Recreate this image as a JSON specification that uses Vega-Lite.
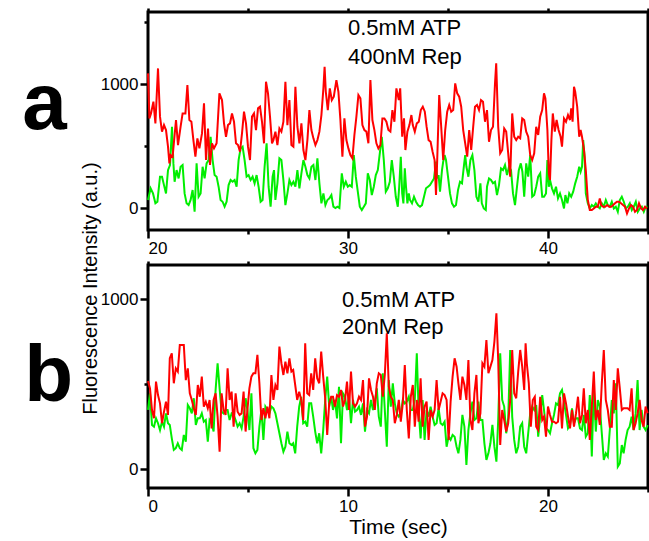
{
"$schema": "https://vega.github.io/schema/vega-lite/v6.json",
"background": "white",
"padding": {"left": 20, "top": 5, "right": 0, "bottom": 0},
"config": {
"font": "Liberation Sans",
"view": {"stroke": "black", "strokeWidth": 3},
"axis": {"grid": false, "domain": false, "tickColor": "black", "tickWidth": 2.5, "labelFont": "Liberation Sans", "labelFontSize": 17, "labelColor": "black", "labelPadding": 2, "titleFont": "Liberation Sans", "titleFontSize": 20, "titleFontWeight": "normal", "titleColor": "black"},
"text": {"font": "Liberation Sans"}
},
"datasets": {
"aR": [{"t":20.00,"v":1086},{"t":20.07,"v":723},{"t":20.15,"v":763},{"t":20.27,"v":858},{"t":20.37,"v":683},{"t":20.50,"v":1126},{"t":20.60,"v":737},{"t":20.70,"v":616},{"t":20.80,"v":669},{"t":20.90,"v":629},{"t":21.00,"v":495},{"t":21.07,"v":360},{"t":21.13,"v":427},{"t":21.23,"v":414},{"t":21.40,"v":710},{"t":21.50,"v":508},{"t":21.63,"v":656},{"t":21.73,"v":763},{"t":21.87,"v":763},{"t":21.97,"v":992},{"t":22.07,"v":710},{"t":22.17,"v":696},{"t":22.27,"v":548},{"t":22.37,"v":414},{"t":22.47,"v":562},{"t":22.57,"v":481},{"t":22.70,"v":602},{"t":22.80,"v":844},{"t":22.90,"v":387},{"t":23.00,"v":642},{"t":23.10,"v":347},{"t":23.20,"v":522},{"t":23.30,"v":481},{"t":23.43,"v":522},{"t":23.57,"v":925},{"t":23.70,"v":871},{"t":23.80,"v":683},{"t":23.90,"v":575},{"t":24.00,"v":669},{"t":24.10,"v":683},{"t":24.20,"v":763},{"t":24.30,"v":696},{"t":24.40,"v":522},{"t":24.50,"v":508},{"t":24.60,"v":454},{"t":24.70,"v":602},{"t":24.80,"v":777},{"t":24.90,"v":683},{"t":25.00,"v":495},{"t":25.10,"v":387},{"t":25.20,"v":737},{"t":25.30,"v":763},{"t":25.40,"v":629},{"t":25.50,"v":804},{"t":25.60,"v":817},{"t":25.70,"v":696},{"t":25.80,"v":522},{"t":25.90,"v":1019},{"t":26.00,"v":925},{"t":26.10,"v":737},{"t":26.20,"v":522},
{"t":26.27,"v":548},{"t":26.37,"v":616},{"t":26.47,"v":508},{"t":26.57,"v":642},{"t":26.67,"v":616},{"t":26.77,"v":696},{"t":26.87,"v":1019},{"t":26.97,"v":669},{"t":27.07,"v":871},{"t":27.17,"v":508},{"t":27.27,"v":495},{"t":27.37,"v":978},{"t":27.47,"v":656},{"t":27.57,"v":522},{"t":27.67,"v":683},{"t":27.77,"v":468},{"t":27.87,"v":387},{"t":27.97,"v":548},{"t":28.07,"v":790},{"t":28.17,"v":629},{"t":28.27,"v":562},{"t":28.37,"v":508},{"t":28.47,"v":548},{"t":28.57,"v":616},{"t":28.67,"v":750},{"t":28.77,"v":965},{"t":28.83,"v":1140},{"t":28.89,"v":938},{"t":28.99,"v":790},{"t":29.09,"v":965},{"t":29.19,"v":871},{"t":29.29,"v":898},{"t":29.42,"v":1032},{"t":29.52,"v":938},{"t":29.62,"v":710},{"t":29.72,"v":414},{"t":29.82,"v":723},{"t":29.92,"v":548},{"t":30.02,"v":481},{"t":30.12,"v":427},{"t":30.22,"v":401},{"t":30.32,"v":589},{"t":30.42,"v":737},{"t":30.52,"v":911},{"t":30.62,"v":884},{"t":30.72,"v":669},{"t":30.82,"v":629},{"t":30.92,"v":616},{"t":31.02,"v":522},{"t":31.12,"v":1032},{"t":31.22,"v":710},{"t":31.32,"v":629},{"t":31.42,"v":522},{"t":31.52,"v":481},{"t":31.62,"v":508},{"t":31.72,"v":723},{"t":31.82,"v":723},{"t":31.92,"v":696},{"t":32.02,"v":629},{"t":32.12,"v":616},{"t":32.22,"v":790},{"t":32.32,"v":696},{"t":32.42,"v":965},
{"t":32.54,"v":871},{"t":32.61,"v":965},{"t":32.71,"v":575},{"t":32.80,"v":723},{"t":32.87,"v":468},{"t":32.97,"v":616},{"t":33.07,"v":669},{"t":33.17,"v":750},{"t":33.24,"v":669},{"t":33.34,"v":616},{"t":33.44,"v":683},{"t":33.54,"v":696},{"t":33.64,"v":790},{"t":33.74,"v":817},{"t":33.84,"v":777},{"t":33.93,"v":656},{"t":34.03,"v":548},{"t":34.13,"v":535},{"t":34.23,"v":454},{"t":34.33,"v":387},{"t":34.40,"v":105},{"t":34.46,"v":387},{"t":34.56,"v":911},{"t":34.66,"v":656},{"t":34.76,"v":387},{"t":34.86,"v":629},{"t":34.96,"v":777},{"t":35.06,"v":831},{"t":35.16,"v":777},{"t":35.26,"v":790},{"t":35.36,"v":1005},{"t":35.46,"v":925},{"t":35.56,"v":898},{"t":35.66,"v":817},{"t":35.76,"v":629},{"t":35.86,"v":522},{"t":35.96,"v":414},{"t":36.06,"v":629},{"t":36.16,"v":468},{"t":36.26,"v":656},{"t":36.35,"v":817},{"t":36.45,"v":831},{"t":36.55,"v":790},{"t":36.65,"v":871},{"t":36.75,"v":858},{"t":36.85,"v":696},{"t":36.95,"v":790},{"t":37.05,"v":535},{"t":37.15,"v":629},{"t":37.25,"v":656},{"t":37.35,"v":1005},{"t":37.41,"v":1167},{"t":37.51,"v":656},{"t":37.61,"v":441},{"t":37.71,"v":468},{"t":37.81,"v":642},{"t":37.91,"v":616},{"t":38.01,"v":441},{"t":38.11,"v":253},{"t":38.21,"v":763},{"t":38.31,"v":575},{"t":38.41,"v":548},{"t":38.51,"v":575},{"t":38.61,"v":562},{"t":38.71,"v":723},
{"t":38.81,"v":710},{"t":38.91,"v":616},{"t":39.01,"v":575},{"t":39.11,"v":427},{"t":39.21,"v":387},{"t":39.31,"v":441},{"t":39.41,"v":656},{"t":39.51,"v":589},{"t":39.61,"v":737},{"t":39.71,"v":790},{"t":39.80,"v":925},{"t":39.87,"v":884},{"t":39.97,"v":629},{"t":40.04,"v":280},{"t":40.10,"v":226},{"t":40.17,"v":548},{"t":40.24,"v":763},{"t":40.34,"v":616},{"t":40.43,"v":710},{"t":40.53,"v":629},{"t":40.63,"v":575},{"t":40.70,"v":495},{"t":40.80,"v":723},{"t":40.90,"v":696},{"t":41.00,"v":750},{"t":41.10,"v":710},{"t":41.16,"v":804},{"t":41.23,"v":696},{"t":41.30,"v":978},{"t":41.36,"v":938},{"t":41.46,"v":817},{"t":41.56,"v":575},{"t":41.63,"v":629},{"t":41.70,"v":575},{"t":41.80,"v":468},{"t":41.89,"v":306},{"t":41.99,"v":65},{"t":42.09,"v":-16},{"t":42.19,"v":-16},{"t":42.29,"v":-3},{"t":42.39,"v":11},{"t":42.49,"v":11},{"t":42.59,"v":78},{"t":42.66,"v":24},{"t":42.76,"v":11},{"t":42.86,"v":11},{"t":42.96,"v":24},{"t":43.06,"v":11},{"t":43.16,"v":11},{"t":43.26,"v":24},{"t":43.35,"v":38},{"t":43.45,"v":51},{"t":43.55,"v":51},{"t":43.65,"v":38},{"t":43.75,"v":24},{"t":43.85,"v":11},{"t":43.95,"v":-43},{"t":44.05,"v":-3},{"t":44.15,"v":24},{"t":44.25,"v":11},{"t":44.35,"v":-30},{"t":44.45,"v":-16},{"t":44.55,"v":38},{"t":44.65,"v":-3},{"t":44.75,"v":-16},{"t":44.85,"v":11},{"t":44.95,"v":-3}],
"aG": [{"t":20.00,"v":65},{"t":20.13,"v":159},{"t":20.25,"v":118},{"t":20.37,"v":38},{"t":20.47,"v":51},{"t":20.60,"v":253},{"t":20.70,"v":253},{"t":20.80,"v":185},{"t":20.90,"v":118},{"t":21.00,"v":306},{"t":21.10,"v":347},{"t":21.20,"v":656},{"t":21.27,"v":360},{"t":21.33,"v":212},{"t":21.43,"v":306},{"t":21.53,"v":239},{"t":21.63,"v":333},{"t":21.73,"v":347},{"t":21.83,"v":118},{"t":21.93,"v":38},{"t":22.03,"v":24},{"t":22.13,"v":65},{"t":22.23,"v":145},{"t":22.33,"v":-30},{"t":22.43,"v":360},{"t":22.53,"v":91},{"t":22.63,"v":118},{"t":22.73,"v":333},{"t":22.83,"v":239},{"t":22.93,"v":360},{"t":23.03,"v":387},{"t":23.13,"v":575},{"t":23.23,"v":387},{"t":23.33,"v":266},{"t":23.43,"v":253},{"t":23.53,"v":172},{"t":23.63,"v":65},{"t":23.73,"v":51},{"t":23.83,"v":11},{"t":23.93,"v":51},{"t":24.03,"v":185},{"t":24.13,"v":226},{"t":24.23,"v":212},{"t":24.33,"v":226},{"t":24.43,"v":172},{"t":24.53,"v":387},{"t":24.63,"v":481},{"t":24.73,"v":495},{"t":24.83,"v":387},{"t":24.93,"v":253},{"t":25.03,"v":266},{"t":25.13,"v":226},{"t":25.23,"v":253},{"t":25.33,"v":199},{"t":25.43,"v":266},{"t":25.53,"v":172},{"t":25.63,"v":51},{"t":25.73,"v":65},{"t":25.83,"v":333},{"t":25.93,"v":522},{"t":26.03,"v":172},{"t":26.13,"v":11},{"t":26.23,"v":253},
{"t":26.30,"v":306},{"t":26.37,"v":65},{"t":26.47,"v":199},{"t":26.57,"v":401},{"t":26.67,"v":387},{"t":26.77,"v":226},{"t":26.87,"v":24},{"t":26.97,"v":118},{"t":27.07,"v":226},{"t":27.17,"v":185},{"t":27.27,"v":212},{"t":27.37,"v":172},{"t":27.47,"v":306},{"t":27.57,"v":159},{"t":27.67,"v":280},{"t":27.77,"v":387},{"t":27.87,"v":333},{"t":27.97,"v":266},{"t":28.07,"v":239},{"t":28.17,"v":333},{"t":28.27,"v":347},{"t":28.37,"v":226},{"t":28.47,"v":401},{"t":28.57,"v":199},{"t":28.67,"v":38},{"t":28.77,"v":118},{"t":28.87,"v":24},{"t":28.97,"v":65},{"t":29.07,"v":78},{"t":29.17,"v":105},{"t":29.27,"v":11},{"t":29.37,"v":0},{"t":29.47,"v":11},{"t":29.57,"v":0},{"t":29.69,"v":280},{"t":29.79,"v":172},{"t":29.89,"v":212},{"t":29.99,"v":172},{"t":30.09,"v":185},{"t":30.19,"v":172},{"t":30.29,"v":427},{"t":30.39,"v":253},{"t":30.49,"v":132},{"t":30.59,"v":11},{"t":30.69,"v":-16},{"t":30.79,"v":11},{"t":30.89,"v":38},{"t":30.99,"v":280},{"t":31.09,"v":226},{"t":31.19,"v":105},{"t":31.29,"v":172},{"t":31.39,"v":266},{"t":31.49,"v":306},{"t":31.59,"v":441},{"t":31.69,"v":575},{"t":31.79,"v":387},{"t":31.89,"v":132},{"t":31.99,"v":159},{"t":32.09,"v":212},{"t":32.19,"v":387},{"t":32.29,"v":253},{"t":32.39,"v":91},{"t":32.49,"v":11},
{"t":32.56,"v":172},{"t":32.64,"v":414},{"t":32.71,"v":118},{"t":32.77,"v":38},{"t":32.84,"v":320},{"t":32.90,"v":172},{"t":32.97,"v":38},{"t":33.04,"v":118},{"t":33.10,"v":65},{"t":33.20,"v":38},{"t":33.30,"v":91},{"t":33.40,"v":51},{"t":33.50,"v":24},{"t":33.60,"v":11},{"t":33.70,"v":24},{"t":33.80,"v":91},{"t":33.90,"v":159},{"t":34.00,"v":172},{"t":34.10,"v":185},{"t":34.20,"v":212},{"t":34.30,"v":239},{"t":34.40,"v":374},{"t":34.46,"v":239},{"t":34.53,"v":266},{"t":34.60,"v":132},{"t":34.70,"v":306},{"t":34.76,"v":374},{"t":34.83,"v":427},{"t":34.90,"v":387},{"t":35.00,"v":253},{"t":35.10,"v":118},{"t":35.20,"v":38},{"t":35.30,"v":11},{"t":35.40,"v":24},{"t":35.50,"v":145},{"t":35.60,"v":212},{"t":35.70,"v":199},{"t":35.80,"v":347},{"t":35.86,"v":427},{"t":35.92,"v":333},{"t":36.02,"v":253},{"t":36.12,"v":387},{"t":36.22,"v":427},{"t":36.32,"v":306},{"t":36.42,"v":91},{"t":36.52,"v":51},{"t":36.62,"v":199},{"t":36.69,"v":38},{"t":36.79,"v":-3},{"t":36.89,"v":-16},{"t":36.95,"v":172},{"t":37.05,"v":239},{"t":37.15,"v":226},{"t":37.25,"v":199},{"t":37.35,"v":212},{"t":37.45,"v":105},{"t":37.55,"v":185},{"t":37.65,"v":320},{"t":37.75,"v":306},{"t":37.85,"v":347},{"t":37.95,"v":266},{"t":38.05,"v":333},{"t":38.15,"v":306},{"t":38.25,"v":118},{"t":38.35,"v":24},{"t":38.45,"v":172},{"t":38.54,"v":306},{"t":38.64,"v":360},{"t":38.72,"v":293},
{"t":38.81,"v":91},{"t":38.91,"v":360},{"t":39.01,"v":253},{"t":39.11,"v":427},{"t":39.21,"v":91},{"t":39.31,"v":105},{"t":39.41,"v":172},{"t":39.51,"v":253},{"t":39.61,"v":280},{"t":39.71,"v":91},{"t":39.80,"v":91},{"t":39.90,"v":118},{"t":39.97,"v":387},{"t":40.04,"v":172},{"t":40.10,"v":226},{"t":40.20,"v":159},{"t":40.30,"v":118},{"t":40.40,"v":172},{"t":40.50,"v":78},{"t":40.60,"v":118},{"t":40.70,"v":65},{"t":40.80,"v":-3},{"t":40.87,"v":105},{"t":40.97,"v":38},{"t":41.06,"v":118},{"t":41.16,"v":91},{"t":41.26,"v":132},{"t":41.36,"v":199},{"t":41.46,"v":253},{"t":41.56,"v":333},{"t":41.63,"v":293},{"t":41.70,"v":333},{"t":41.76,"v":548},{"t":41.83,"v":414},{"t":41.89,"v":118},{"t":41.99,"v":38},{"t":42.09,"v":-3},{"t":42.19,"v":24},{"t":42.29,"v":11},{"t":42.39,"v":38},{"t":42.49,"v":11},{"t":42.59,"v":-3},{"t":42.69,"v":38},{"t":42.79,"v":11},{"t":42.89,"v":65},{"t":42.99,"v":24},{"t":43.09,"v":11},{"t":43.19,"v":51},{"t":43.29,"v":-3},{"t":43.39,"v":11},{"t":43.49,"v":-30},{"t":43.59,"v":65},{"t":43.69,"v":91},{"t":43.79,"v":51},{"t":43.89,"v":-3},{"t":43.99,"v":11},{"t":44.09,"v":38},{"t":44.19,"v":-16},{"t":44.29,"v":11},{"t":44.39,"v":51},{"t":44.49,"v":-30},{"t":44.59,"v":-3},{"t":44.69,"v":11},{"t":44.79,"v":-30},{"t":44.89,"v":11},{"t":44.97,"v":11}],
"bR": [{"t":0.00,"v":520},{"t":0.10,"v":476},{"t":0.20,"v":349},{"t":0.30,"v":300},{"t":0.40,"v":516},{"t":0.50,"v":437},{"t":0.60,"v":388},{"t":0.70,"v":271},{"t":0.80,"v":339},{"t":0.90,"v":398},{"t":1.00,"v":320},{"t":1.09,"v":653},{"t":1.19,"v":682},{"t":1.29,"v":506},{"t":1.39,"v":594},{"t":1.49,"v":575},{"t":1.59,"v":731},{"t":1.69,"v":731},{"t":1.79,"v":731},{"t":1.89,"v":525},{"t":1.99,"v":594},{"t":2.09,"v":447},{"t":2.19,"v":408},{"t":2.29,"v":359},{"t":2.39,"v":320},{"t":2.49,"v":496},{"t":2.59,"v":427},{"t":2.69,"v":545},{"t":2.79,"v":369},{"t":2.89,"v":398},{"t":2.99,"v":359},{"t":3.08,"v":408},{"t":3.18,"v":241},{"t":3.28,"v":408},{"t":3.38,"v":447},{"t":3.48,"v":310},{"t":3.58,"v":104},{"t":3.68,"v":447},{"t":3.78,"v":349},{"t":3.88,"v":320},{"t":3.98,"v":594},{"t":4.08,"v":408},{"t":4.18,"v":457},{"t":4.28,"v":251},{"t":4.38,"v":447},{"t":4.48,"v":339},{"t":4.58,"v":320},{"t":4.68,"v":329},{"t":4.78,"v":457},{"t":4.88,"v":222},{"t":4.97,"v":349},{"t":5.07,"v":476},{"t":5.17,"v":545},{"t":5.27,"v":565},{"t":5.37,"v":565},{"t":5.47,"v":673},{"t":5.57,"v":506},{"t":5.67,"v":290},{"t":5.77,"v":359},{"t":5.87,"v":300},{"t":5.97,"v":369},{"t":6.07,"v":300},{"t":6.17,"v":555},
{"t":6.27,"v":408},{"t":6.37,"v":496},{"t":6.47,"v":467},{"t":6.57,"v":722},{"t":6.67,"v":624},{"t":6.77,"v":555},{"t":6.87,"v":633},{"t":6.97,"v":565},{"t":7.07,"v":653},{"t":7.17,"v":575},{"t":7.26,"v":584},{"t":7.36,"v":496},{"t":7.46,"v":408},{"t":7.56,"v":457},{"t":7.66,"v":408},{"t":7.76,"v":290},{"t":7.86,"v":741},{"t":7.96,"v":447},{"t":8.06,"v":437},{"t":8.16,"v":565},{"t":8.26,"v":467},{"t":8.36,"v":653},{"t":8.46,"v":535},{"t":8.56,"v":506},{"t":8.66,"v":692},{"t":8.76,"v":545},{"t":8.86,"v":418},{"t":8.96,"v":202},{"t":9.06,"v":388},{"t":9.16,"v":427},{"t":9.25,"v":427},{"t":9.35,"v":369},{"t":9.45,"v":437},{"t":9.55,"v":427},{"t":9.65,"v":467},{"t":9.75,"v":369},{"t":9.85,"v":408},{"t":9.95,"v":516},{"t":10.05,"v":349},{"t":10.15,"v":575},{"t":10.25,"v":388},{"t":10.35,"v":369},{"t":10.45,"v":388},{"t":10.55,"v":427},{"t":10.65,"v":408},{"t":10.75,"v":525},{"t":10.85,"v":251},{"t":10.95,"v":310},{"t":11.05,"v":535},{"t":11.15,"v":467},{"t":11.25,"v":427},{"t":11.34,"v":349},{"t":11.44,"v":506},{"t":11.54,"v":565},{"t":11.64,"v":555},{"t":11.74,"v":427},{"t":11.84,"v":555},{"t":11.94,"v":800},{"t":12.04,"v":486},{"t":12.14,"v":427},{"t":12.24,"v":408},{"t":12.34,"v":271},{"t":12.44,"v":320},{"t":12.54,"v":408},
{"t":12.64,"v":280},{"t":12.74,"v":388},{"t":12.84,"v":614},{"t":12.94,"v":349},{"t":13.04,"v":182},{"t":13.14,"v":427},{"t":13.24,"v":496},{"t":13.34,"v":251},{"t":13.44,"v":408},{"t":13.53,"v":280},{"t":13.63,"v":535},{"t":13.73,"v":251},{"t":13.83,"v":369},{"t":13.93,"v":398},{"t":14.03,"v":173},{"t":14.13,"v":349},{"t":14.23,"v":310},{"t":14.33,"v":349},{"t":14.43,"v":525},{"t":14.53,"v":349},{"t":14.63,"v":398},{"t":14.73,"v":447},{"t":14.83,"v":437},{"t":14.93,"v":408},{"t":15.03,"v":173},{"t":15.13,"v":398},{"t":15.23,"v":545},{"t":15.33,"v":653},{"t":15.43,"v":604},{"t":15.52,"v":506},{"t":15.62,"v":408},{"t":15.72,"v":545},{"t":15.82,"v":496},{"t":15.92,"v":408},{"t":16.02,"v":643},{"t":16.12,"v":290},{"t":16.22,"v":231},{"t":16.32,"v":447},{"t":16.42,"v":555},{"t":16.52,"v":271},{"t":16.62,"v":329},{"t":16.72,"v":624},{"t":16.82,"v":604},{"t":16.92,"v":761},{"t":17.02,"v":565},{"t":17.12,"v":604},{"t":17.22,"v":643},{"t":17.32,"v":751},{"t":17.42,"v":918},{"t":17.51,"v":643},{"t":17.61,"v":143},{"t":17.71,"v":349},{"t":17.81,"v":290},{"t":17.91,"v":222},{"t":18.01,"v":271},{"t":18.11,"v":408},{"t":18.21,"v":702},{"t":18.31,"v":447},{"t":18.41,"v":418},{"t":18.51,"v":575},{"t":18.61,"v":702},{"t":18.71,"v":604},
{"t":18.81,"v":467},{"t":18.88,"v":741},{"t":18.94,"v":624},{"t":19.04,"v":506},{"t":19.14,"v":251},{"t":19.24,"v":408},{"t":19.34,"v":427},{"t":19.41,"v":251},{"t":19.51,"v":231},{"t":19.61,"v":427},{"t":19.71,"v":290},{"t":19.80,"v":310},{"t":19.90,"v":192},{"t":20.00,"v":369},{"t":20.10,"v":320},{"t":20.20,"v":280},{"t":20.30,"v":280},{"t":20.40,"v":271},{"t":20.50,"v":280},{"t":20.60,"v":427},{"t":20.70,"v":241},{"t":20.80,"v":447},{"t":20.90,"v":388},{"t":21.00,"v":310},{"t":21.10,"v":241},{"t":21.20,"v":349},{"t":21.30,"v":251},{"t":21.40,"v":329},{"t":21.50,"v":427},{"t":21.60,"v":271},{"t":21.70,"v":320},{"t":21.79,"v":476},{"t":21.89,"v":271},{"t":21.99,"v":349},{"t":22.09,"v":173},{"t":22.19,"v":369},{"t":22.29,"v":575},{"t":22.39,"v":290},{"t":22.49,"v":349},{"t":22.59,"v":261},{"t":22.69,"v":506},{"t":22.79,"v":702},{"t":22.89,"v":408},{"t":22.99,"v":349},{"t":23.09,"v":251},{"t":23.19,"v":251},{"t":23.29,"v":525},{"t":23.39,"v":349},{"t":23.49,"v":594},{"t":23.59,"v":476},{"t":23.69,"v":349},{"t":23.78,"v":359},{"t":23.88,"v":359},{"t":23.98,"v":359},{"t":24.08,"v":349},{"t":24.18,"v":476},{"t":24.28,"v":231},{"t":24.38,"v":271},{"t":24.48,"v":329},{"t":24.58,"v":408},{"t":24.68,"v":290},{"t":24.78,"v":251},{"t":24.88,"v":369},{"t":24.98,"v":330}],
"bG": [{"t":0.00,"v":350},{"t":0.10,"v":447},{"t":0.20,"v":261},{"t":0.30,"v":251},{"t":0.40,"v":300},{"t":0.50,"v":271},{"t":0.60,"v":231},{"t":0.70,"v":280},{"t":0.80,"v":251},{"t":0.90,"v":329},{"t":1.00,"v":271},{"t":1.09,"v":261},{"t":1.19,"v":182},{"t":1.29,"v":114},{"t":1.39,"v":124},{"t":1.49,"v":153},{"t":1.59,"v":124},{"t":1.69,"v":114},{"t":1.79,"v":202},{"t":1.89,"v":163},{"t":1.99,"v":378},{"t":2.09,"v":359},{"t":2.19,"v":329},{"t":2.29,"v":418},{"t":2.39,"v":261},{"t":2.49,"v":300},{"t":2.59,"v":300},{"t":2.69,"v":329},{"t":2.79,"v":280},{"t":2.89,"v":290},{"t":2.99,"v":163},{"t":3.08,"v":290},{"t":3.18,"v":271},{"t":3.28,"v":222},{"t":3.38,"v":467},{"t":3.48,"v":624},{"t":3.58,"v":476},{"t":3.68,"v":339},{"t":3.78,"v":329},{"t":3.88,"v":349},{"t":3.98,"v":349},{"t":4.08,"v":290},{"t":4.18,"v":329},{"t":4.28,"v":320},{"t":4.38,"v":290},{"t":4.48,"v":251},{"t":4.58,"v":271},{"t":4.68,"v":241},{"t":4.78,"v":310},{"t":4.88,"v":418},{"t":4.97,"v":349},{"t":5.07,"v":231},{"t":5.17,"v":447},{"t":5.27,"v":124},{"t":5.37,"v":94},{"t":5.47,"v":114},{"t":5.57,"v":251},{"t":5.67,"v":349},{"t":5.77,"v":173},{"t":5.87,"v":369},{"t":5.97,"v":349},{"t":6.07,"v":329},{"t":6.17,"v":369},
{"t":6.27,"v":359},{"t":6.37,"v":329},{"t":6.47,"v":271},{"t":6.57,"v":212},{"t":6.67,"v":153},{"t":6.77,"v":104},{"t":6.87,"v":133},{"t":6.97,"v":222},{"t":7.07,"v":153},{"t":7.17,"v":143},{"t":7.26,"v":153},{"t":7.36,"v":94},{"t":7.46,"v":251},{"t":7.56,"v":369},{"t":7.66,"v":427},{"t":7.76,"v":271},{"t":7.86,"v":280},{"t":7.96,"v":251},{"t":8.06,"v":388},{"t":8.16,"v":388},{"t":8.26,"v":310},{"t":8.36,"v":222},{"t":8.46,"v":153},{"t":8.56,"v":212},{"t":8.66,"v":94},{"t":8.76,"v":231},{"t":8.86,"v":408},{"t":8.96,"v":545},{"t":9.06,"v":369},{"t":9.16,"v":427},{"t":9.25,"v":349},{"t":9.35,"v":408},{"t":9.45,"v":300},{"t":9.55,"v":486},{"t":9.65,"v":153},{"t":9.75,"v":447},{"t":9.85,"v":427},{"t":9.95,"v":349},{"t":10.05,"v":427},{"t":10.15,"v":271},{"t":10.25,"v":408},{"t":10.35,"v":339},{"t":10.45,"v":349},{"t":10.55,"v":369},{"t":10.65,"v":320},{"t":10.75,"v":388},{"t":10.85,"v":222},{"t":10.95,"v":349},{"t":11.05,"v":329},{"t":11.15,"v":408},{"t":11.25,"v":349},{"t":11.34,"v":398},{"t":11.44,"v":476},{"t":11.54,"v":310},{"t":11.64,"v":251},{"t":11.74,"v":565},{"t":11.84,"v":349},{"t":11.94,"v":133},{"t":12.04,"v":525},{"t":12.14,"v":369},{"t":12.24,"v":506},{"t":12.34,"v":388},{"t":12.44,"v":329},{"t":12.54,"v":310},
{"t":12.64,"v":329},{"t":12.74,"v":408},{"t":12.84,"v":388},{"t":12.94,"v":398},{"t":13.04,"v":427},{"t":13.14,"v":349},{"t":13.24,"v":349},{"t":13.34,"v":408},{"t":13.44,"v":682},{"t":13.53,"v":349},{"t":13.63,"v":182},{"t":13.73,"v":408},{"t":13.83,"v":173},{"t":13.93,"v":349},{"t":14.03,"v":310},{"t":14.13,"v":369},{"t":14.23,"v":310},{"t":14.33,"v":261},{"t":14.43,"v":271},{"t":14.53,"v":359},{"t":14.63,"v":271},{"t":14.73,"v":261},{"t":14.83,"v":280},{"t":14.93,"v":133},{"t":15.03,"v":192},{"t":15.13,"v":173},{"t":15.23,"v":202},{"t":15.33,"v":192},{"t":15.43,"v":133},{"t":15.52,"v":94},{"t":15.62,"v":173},{"t":15.72,"v":320},{"t":15.82,"v":251},{"t":15.92,"v":25},{"t":16.02,"v":231},{"t":16.12,"v":329},{"t":16.22,"v":398},{"t":16.32,"v":290},{"t":16.42,"v":300},{"t":16.52,"v":398},{"t":16.62,"v":290},{"t":16.72,"v":290},{"t":16.82,"v":153},{"t":16.92,"v":55},{"t":17.02,"v":94},{"t":17.12,"v":153},{"t":17.22,"v":261},{"t":17.32,"v":133},{"t":17.42,"v":45},{"t":17.51,"v":290},{"t":17.61,"v":682},{"t":17.71,"v":408},{"t":17.81,"v":369},{"t":17.91,"v":212},{"t":18.01,"v":300},{"t":18.11,"v":702},{"t":18.21,"v":310},{"t":18.31,"v":173},{"t":18.41,"v":94},{"t":18.51,"v":133},{"t":18.61,"v":251},{"t":18.71,"v":271},
{"t":18.81,"v":133},{"t":18.91,"v":94},{"t":19.01,"v":212},{"t":19.11,"v":329},{"t":19.21,"v":369},{"t":19.31,"v":349},{"t":19.41,"v":378},{"t":19.51,"v":192},{"t":19.61,"v":310},{"t":19.71,"v":437},{"t":19.80,"v":349},{"t":19.90,"v":241},{"t":20.00,"v":231},{"t":20.10,"v":212},{"t":20.20,"v":271},{"t":20.30,"v":320},{"t":20.40,"v":388},{"t":20.50,"v":378},{"t":20.60,"v":447},{"t":20.70,"v":467},{"t":20.80,"v":398},{"t":20.90,"v":320},{"t":21.00,"v":241},{"t":21.10,"v":261},{"t":21.20,"v":359},{"t":21.30,"v":271},{"t":21.40,"v":300},{"t":21.50,"v":300},{"t":21.60,"v":241},{"t":21.70,"v":231},{"t":21.79,"v":320},{"t":21.89,"v":192},{"t":21.99,"v":212},{"t":22.09,"v":437},{"t":22.19,"v":75},{"t":22.29,"v":486},{"t":22.39,"v":222},{"t":22.49,"v":408},{"t":22.59,"v":369},{"t":22.69,"v":212},{"t":22.79,"v":55},{"t":22.89,"v":94},{"t":22.99,"v":75},{"t":23.09,"v":231},{"t":23.19,"v":408},{"t":23.29,"v":329},{"t":23.39,"v":506},{"t":23.49,"v":16},{"t":23.59,"v":35},{"t":23.69,"v":143},{"t":23.78,"v":94},{"t":23.88,"v":173},{"t":23.98,"v":231},{"t":24.08,"v":251},{"t":24.18,"v":310},{"t":24.28,"v":231},{"t":24.38,"v":329},{"t":24.48,"v":525},{"t":24.58,"v":231},{"t":24.68,"v":349},{"t":24.78,"v":251},{"t":24.88,"v":231},{"t":24.98,"v":260}],
"txtA": [{"t":30.0,"v":1456,"label":"0.5mM ATP"},{"t":30.0,"v":1218,"label":"400nM Rep"}],
"txtB": [{"t":9.7,"v":996,"label":"0.5mM ATP"},{"t":9.7,"v":840,"label":"20nM Rep"}]
},
"spacing": 35,
"bounds": "flush",
"vconcat": [
{
"width": 500, "height": 218,
"title": {"text": "a", "orient": "left", "angle": 0, "fontSize": 80, "fontWeight": "bold", "align": "right", "baseline": "middle", "anchor": "middle", "dy": -16, "offset": -11, "color": "black", "font": "Liberation Sans"},
"layer": [
{"data": {"name": "aG"}, "mark": {"type": "line", "color": "#00ee00", "strokeWidth": 2},
"encoding": {
"x": {"field": "t", "type": "quantitative", "scale": {"domain": [20, 45], "nice": false}, "axis": {"orient": "top", "values": [20, 25, 30, 35, 40, 45], "labels": false, "tickSize": 4, "title": null}},
"y": {"field": "v", "type": "quantitative", "scale": {"domain": [-177, 1581], "nice": false, "zero": false}, "axis": {"orient": "right", "values": [0, 500, 1000, 1500], "labels": false, "tickSize": 4, "title": null}}}},
{"data": {"name": "aR"}, "mark": {"type": "line", "color": "#ff0000", "strokeWidth": 2},
"encoding": {
"x": {"field": "t", "type": "quantitative", "scale": {"domain": [20, 45], "nice": false}, "axis": {"orient": "bottom", "values": [20, 25, 30, 35, 40, 45], "labelExpr": "datum.value % 10 === 0 ? datum.label : ''", "tickSize": {"condition": {"test": "datum.value % 10 === 0", "value": 8}, "value": 4}, "title": null}},
"y": {"field": "v", "type": "quantitative", "scale": {"domain": [-177, 1581], "nice": false, "zero": false}, "axis": {"orient": "left", "values": [0, 500, 1000, 1500], "format": "d", "labelExpr": "datum.value % 1000 === 0 ? datum.label : ''", "tickSize": {"condition": {"test": "datum.value % 1000 === 0", "value": 8}, "value": 4}, "title": null}}}},
{"data": {"name": "txtA"}, "mark": {"type": "text", "align": "left", "baseline": "middle", "fontSize": 22, "color": "black"},
"encoding": {
"x": {"field": "t", "type": "quantitative", "axis": null},
"y": {"field": "v", "type": "quantitative", "axis": null},
"text": {"field": "label"}}}
],
"resolve": {"axis": {"x": "independent", "y": "independent"}}
},
{
"width": 500, "height": 223,
"title": {"text": "b", "orient": "left", "angle": 0, "fontSize": 80, "fontWeight": "bold", "align": "right", "baseline": "middle", "anchor": "middle", "dy": 0, "offset": -42, "color": "black", "font": "Liberation Sans"},
"layer": [
{"data": {"name": "bG"}, "mark": {"type": "line", "color": "#00ee00", "strokeWidth": 2},
"encoding": {
"x": {"field": "t", "type": "quantitative", "scale": {"domain": [0, 25], "nice": false}, "axis": {"orient": "top", "values": [0, 5, 10, 15, 20, 25], "labels": false, "tickSize": 4, "title": null}},
"y": {"field": "v", "type": "quantitative", "scale": {"domain": [-110, 1202], "nice": false, "zero": false}, "axis": {"orient": "right", "values": [0, 500, 1000], "labels": false, "tickSize": 4, "title": null}}}},
{"data": {"name": "bR"}, "mark": {"type": "line", "color": "#ff0000", "strokeWidth": 2},
"encoding": {
"x": {"field": "t", "type": "quantitative", "scale": {"domain": [0, 25], "nice": false}, "axis": {"orient": "bottom", "values": [0, 5, 10, 15, 20, 25], "labelExpr": "datum.value % 10 === 0 ? datum.label : ''", "tickSize": {"condition": {"test": "datum.value % 10 === 0", "value": 8}, "value": 4}, "title": "Time (sec)", "titleFontSize": 21, "titlePadding": 2}},
"y": {"field": "v", "type": "quantitative", "scale": {"domain": [-110, 1202], "nice": false, "zero": false}, "axis": {"orient": "left", "values": [0, 500, 1000], "format": "d", "labelExpr": "datum.value % 1000 === 0 ? datum.label : ''", "tickSize": {"condition": {"test": "datum.value % 1000 === 0", "value": 8}, "value": 4}, "title": "Fluorescence Intensity (a.u.)", "titleFontSize": 20, "titleX": -48, "titleY": 23}}}},
{"data": {"name": "txtB"}, "mark": {"type": "text", "align": "left", "baseline": "middle", "fontSize": 22, "color": "black"},
"encoding": {
"x": {"field": "t", "type": "quantitative", "axis": null},
"y": {"field": "v", "type": "quantitative", "axis": null},
"text": {"field": "label"}}}
],
"resolve": {"axis": {"x": "independent", "y": "independent"}}
}
]
}
